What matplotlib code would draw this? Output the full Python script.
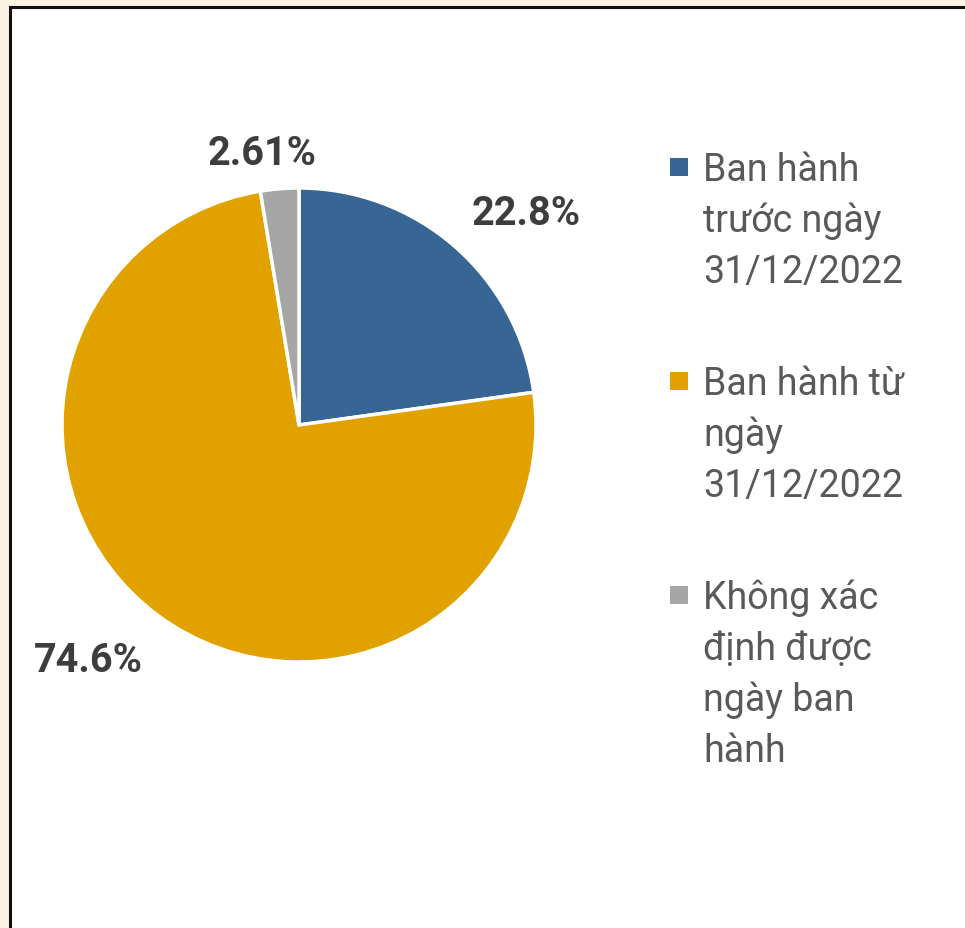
import numpy as np
import matplotlib
matplotlib.use("Agg")
import matplotlib.pyplot as plt
from matplotlib.patches import Rectangle

# ---- data ----
categories = ["Ban hành\ntrước ngày\n31/12/2022",
              "Ban hành từ\nngày\n31/12/2022",
              "Không xác\nđịnh được\nngày ban\nhành"]
values = [22.8, 74.6, 2.61]
value_labels = ["22.8%", "74.6%", "2.61%"]

# ---- style ----
colors = ["#386694", "#E1A200", "#A6A6A6"]
label_radius = [1.31, 1.33, 1.16]
label_angle_offset = [-6.0, -5.5, 3.0]
plt.rcParams['font.family'] = ['Roboto', 'DejaVu Sans']

W, H = 965, 929
fig = plt.figure(figsize=(W / 100, H / 100), dpi=100)
fig.patch.set_facecolor("#FBF4E5")

# white panel with black border
panel = Rectangle((10 / W, -0.1), 1.2, 1.1 - 8 / H, transform=fig.transFigure,
                  facecolor="white", edgecolor="#111111", linewidth=2.2,
                  zorder=-10, clip_on=False)
fig.patches.append(panel)

cx, cy, r = 299, 426, 237
ax = fig.add_axes([(cx - r) / W, (H - cy - r) / H, 2 * r / W, 2 * r / H])
ax.set_zorder(5)
ax.patch.set_alpha(0)

wedges, _ = ax.pie(values, colors=colors, startangle=90, counterclock=False,
                   radius=1, wedgeprops=dict(edgecolor="white", linewidth=2.5))
for w in wedges:
    w.set_clip_on(False)
ax.set_xlim(-1, 1)
ax.set_ylim(-1, 1)
ax.set_aspect("equal")
ax.axis("off")

for w, lab, lr, off in zip(wedges, value_labels, label_radius, label_angle_offset):
    mid = np.deg2rad((w.theta1 + w.theta2) / 2 + off)
    ax.text(lr * np.cos(mid), lr * np.sin(mid), lab, ha="center", va="center",
            fontsize=28.5, fontweight="bold", color="#3D3D3D", clip_on=False)

# legend (manual layout)
first_baseline = [181, 395, 609]
line_h = 51
for cat, col, by in zip(categories, colors, first_baseline):
    fig.patches.append(Rectangle((670 / W, 1 - (by - 13.5 + 9) / H), 18 / W, 18 / H,
                                 transform=fig.transFigure, facecolor=col,
                                 edgecolor="none", zorder=1))
    for i, line in enumerate(cat.split("\n")):
        fig.text(703 / W, 1 - (by + i * line_h) / H, line, ha="left",
                 va="baseline", fontsize=27, color="#595959")

fig.savefig("out.png", dpi=100, facecolor=fig.get_facecolor())
